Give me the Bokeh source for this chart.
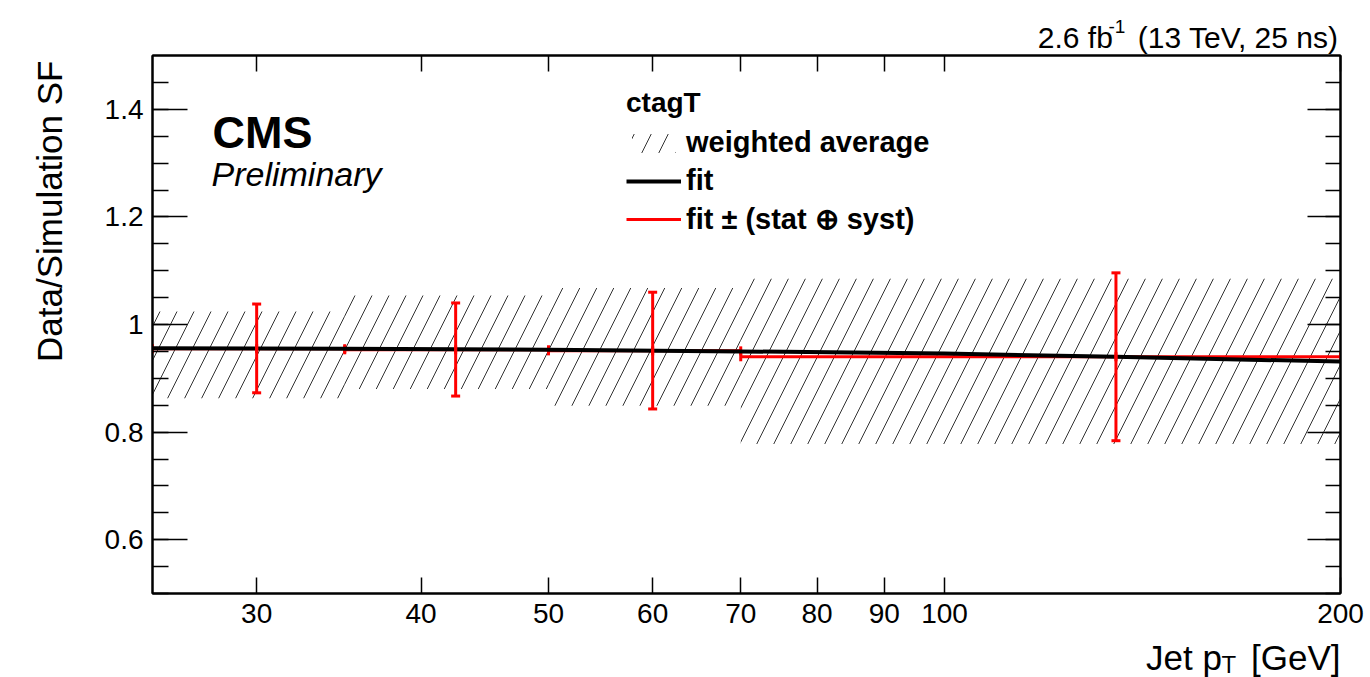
import math
from bokeh.plotting import figure
from bokeh.models import (Range1d, FixedTicker, SingleIntervalTicker, LinearAxis, LogAxis,
                          PrintfTickFormatter, NumeralTickFormatter, Label, Legend, LegendItem,
                          ColumnDataSource)
from bokeh.embed import file_html
from bokeh.resources import INLINE

# ---------------- data ----------------
bin_lo = [25, 35, 50, 70]
bin_hi = [35, 50, 70, 200]
wa_low = [0.863, 0.880, 0.849, 0.778]     # weighted average band (low)
wa_high = [1.024, 1.054, 1.068, 1.085]    # weighted average band (high)

pt_center = [30, 42.5, 60, 135]
fit_val = [0.955, 0.953, 0.951, 0.940]     # fit at bin centre
err_up = [1.038, 1.040, 1.060, 1.096]      # fit + (stat (+) syst)
err_down = [0.873, 0.867, 0.843, 0.784]    # fit - (stat (+) syst)

fit_pt = [25, 35, 50, 70, 100, 135, 200]
fit_sf = [0.956, 0.955, 0.953, 0.950, 0.946, 0.940, 0.931]

x_ticks = [30, 40, 50, 60, 70, 80, 90, 100, 200]

FONT = "Liberation Sans"
NB = "\u00a0"

p = figure(width=1370, height=677, x_axis_type="log",
           x_range=Range1d(25, 200), y_range=Range1d(0.5, 1.5),
           output_backend="svg", toolbar_location=None,
           min_border_left=152, min_border_right=30, min_border_top=55, min_border_bottom=84)
p.xgrid.visible = False
p.ygrid.visible = False
p.outline_line_color = "black"
p.outline_line_width = 2
p.background_fill_color = "white"
p.border_fill_color = "white"

# weighted average hatched band
band_src = ColumnDataSource(dict(left=bin_lo, right=bin_hi, bottom=wa_low, top=wa_high))
r_wa = p.quad(left="left", right="right", bottom="bottom", top="top", source=band_src,
              fill_alpha=0, line_color=None, hatch_pattern="/", hatch_color="#333333",
              hatch_weight=1, hatch_scale=34)

# horizontal (bin-width) red lines at fit value
r_xerr = p.segment(x0=bin_lo, x1=bin_hi, y0=fit_val, y1=fit_val, line_color="red", line_width=3)
p.scatter(x=bin_lo, y=fit_val, marker="dash", angle=math.pi / 2, size=9,
          line_color="red", line_width=3)
p.scatter(x=bin_hi, y=fit_val, marker="dash", angle=math.pi / 2, size=9,
          line_color="red", line_width=3)

# fit line
r_fit = p.line(fit_pt, fit_sf, line_color="black", line_width=4)

# vertical error bars
p.segment(x0=pt_center, x1=pt_center, y0=err_down, y1=err_up, line_color="red", line_width=3)
p.scatter(x=pt_center, y=err_up, marker="dash", size=9, line_color="red", line_width=3)
p.scatter(x=pt_center, y=err_down, marker="dash", size=9, line_color="red", line_width=3)
r_vmark = p.scatter(x=pt_center, y=fit_val, marker="dash", angle=math.pi / 2, size=9,
                    line_color="red", line_width=3)

# ---------------- axes ----------------
def style_axis(ax, tick_in, minor_in, show_labels=True):
    ax.axis_line_width = 2
    ax.axis_line_color = "black"
    ax.major_tick_in = tick_in
    ax.major_tick_out = 0
    ax.minor_tick_in = minor_in
    ax.minor_tick_out = 0
    ax.major_tick_line_width = 1.5
    ax.minor_tick_line_width = 1.5
    ax.major_tick_line_color = "black"
    ax.minor_tick_line_color = "black"
    ax.major_label_text_font = FONT
    ax.major_label_text_font_size = "28px"
    ax.major_label_text_color = "black"
    if not show_labels:
        ax.major_label_text_alpha = 0
        ax.major_label_text_font_size = "1px"
        ax.major_label_standoff = 0

xa = p.xaxis[0]
xa.ticker = FixedTicker(ticks=x_ticks, minor_ticks=[])
xa.formatter = PrintfTickFormatter(format="%d")
style_axis(xa, 16, 0)
xa.major_label_standoff = 10

ya = p.yaxis[0]
ya.ticker = SingleIntervalTicker(interval=0.2, num_minor_ticks=4)
ya.formatter = NumeralTickFormatter(format="0.[0]")
style_axis(ya, 35, 16)
ya.major_label_standoff = 9

xtop = LogAxis(ticker=FixedTicker(ticks=x_ticks, minor_ticks=[]))
style_axis(xtop, 16, 0, show_labels=False)
p.add_layout(xtop, "above")

yright = LinearAxis(ticker=SingleIntervalTicker(interval=0.2, num_minor_ticks=4))
style_axis(yright, 33, 15, show_labels=False)
p.add_layout(yright, "right")

# ---------------- texts ----------------
def lab(text, x, y, xo, yo, size, style="normal", align="left", baseline="alphabetic",
        angle=0, place=None):
    l = Label(x=x, y=y, x_offset=xo, y_offset=yo, text=text, text_font=FONT,
              text_font_size=size, text_font_style=style, text_align=align,
              text_baseline=baseline, angle=angle, text_color="black")
    if place is None:
        p.add_layout(l)
    else:
        p.add_layout(l, place)

# axis titles (side panels so they are not clipped by the frame)
lab("Jet p" + NB * 3 + "[GeV]", 200, 0.5, 0, -64, "35px", align="right", place="below")
lab("T", 200, 0.5, -119, -71, "24px", place="left")
lab("Data/Simulation SF", 25, 1.5, -103, -5, "35px", align="right", angle=math.pi / 2,
    place="left")

# CMS labels
lab("CMS", 25, 1.5, 60, -77, "45px", style="bold")
lab("Preliminary", 25, 1.5, 59, -118, "34px", style="italic")

# luminosity
lab("2.6 fb" + NB * 3 + "(13 TeV, 25 ns)", 200, 1.5, -2, 18, "30px", align="right",
    place="above")
lab("-1", 200, 1.5, -232, 29, "19px", place="left")

# ---------------- legend ----------------
legend = Legend(items=[
    LegendItem(label="weighted average", renderers=[r_wa]),
    LegendItem(label="fit", renderers=[r_fit]),
    LegendItem(label="fit ± (stat ⊕ syst)", renderers=[r_xerr, r_vmark]),
], title="ctagT", location=(474, 357), padding=0, margin=0, spacing=5,
    glyph_width=55, glyph_height=24, label_standoff=5, label_height=24,
    label_text_font=FONT, label_text_font_style="bold", label_text_font_size="29px",
    label_text_color="black",
    title_text_font=FONT, title_text_font_style="bold", title_text_font_size="28px",
    title_text_color="black",
    title_standoff=7, border_line_color=None, background_fill_alpha=0)
p.add_layout(legend)

open("out.html", "w").write(file_html(p, INLINE))
